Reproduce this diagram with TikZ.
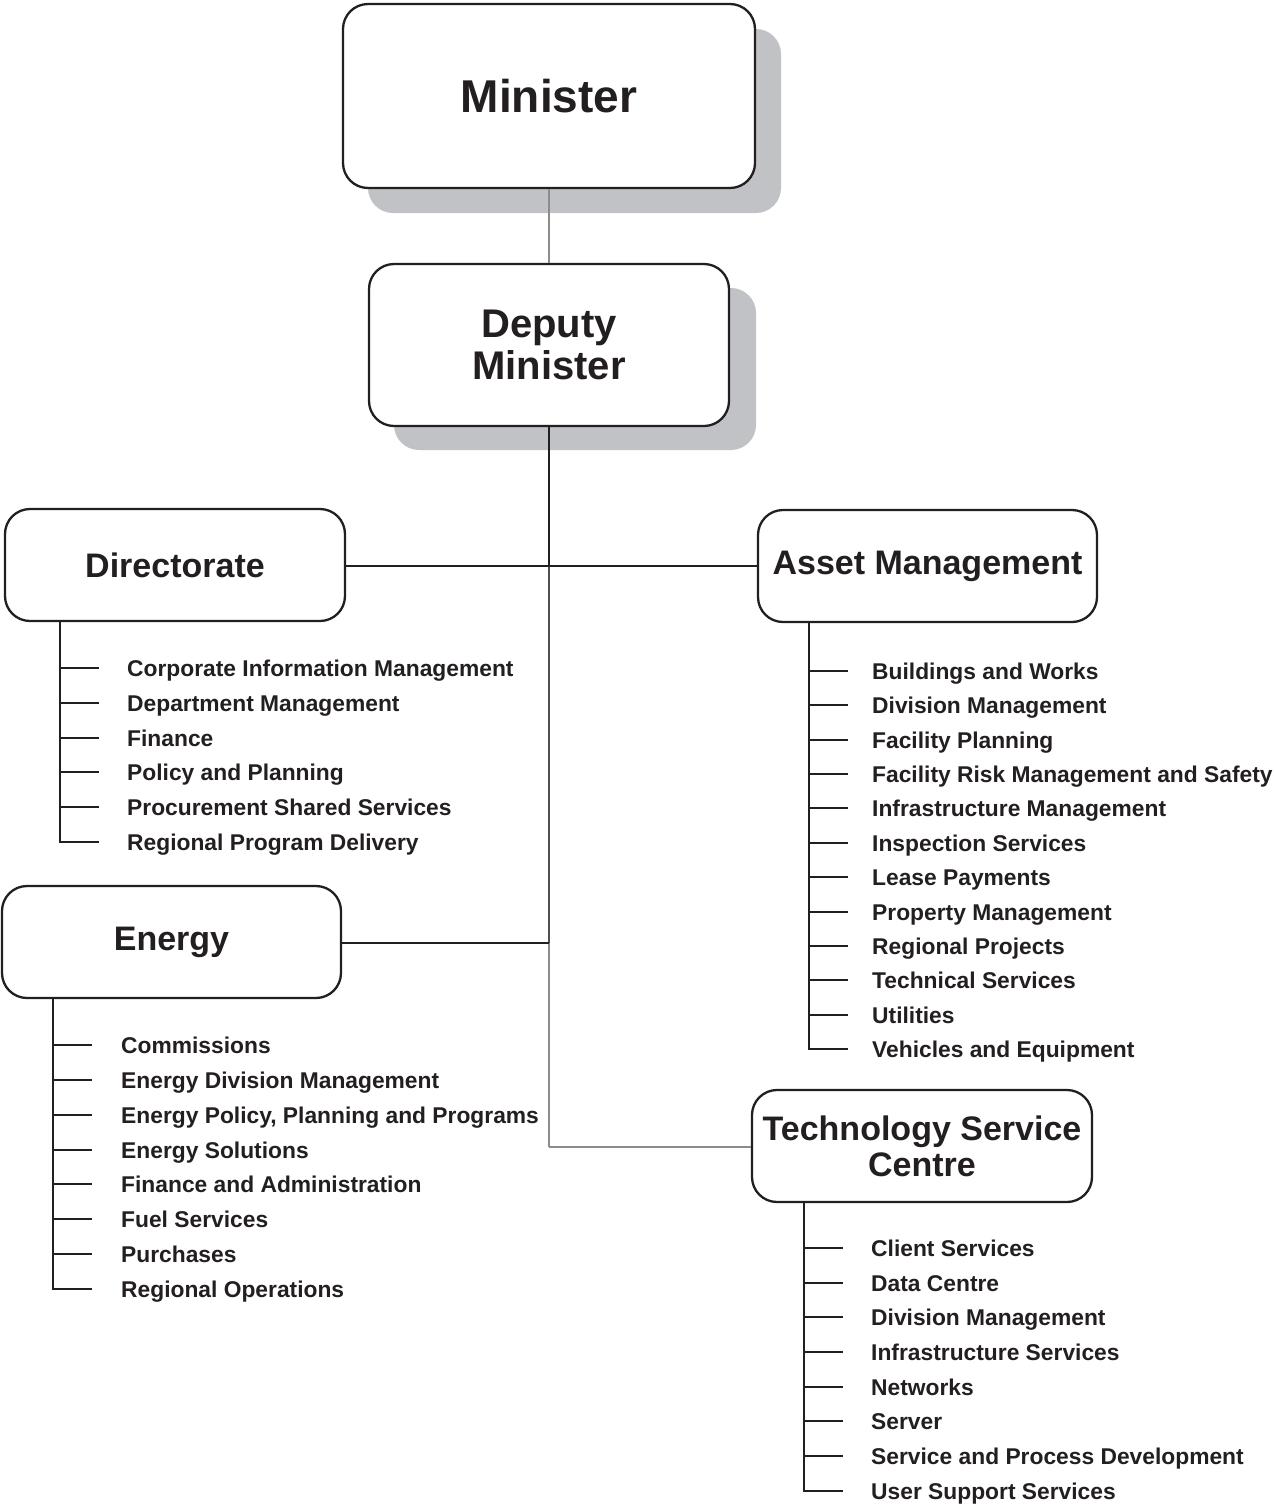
\documentclass[tikz,border=0pt]{standalone}
\usepackage{fontspec}
\setmainfont{Liberation Sans}
\definecolor{ink}{HTML}{231F20}
\definecolor{shade}{HTML}{C1C2C5}
\definecolor{lgrey}{HTML}{8C8C8C}
\definecolor{mgrey}{HTML}{505050}
\begin{document}
\begin{tikzpicture}[x=1pt,y=-1pt,
  box/.style={draw=ink, line width=2.3pt, rounded corners=25pt, fill=white, inner sep=0pt, text=ink, align=center, font=\bfseries\fontsize{34}{36}\selectfont},
  shadowbox/.style={fill=shade, rounded corners=25pt},
  item/.style={anchor=base west, inner sep=0pt, text=ink, font=\bfseries\fontsize{22.8}{24}\selectfont},
  bracket/.style={draw=ink, line width=2pt},
  conn/.style={line width=1.4pt}]
\useasboundingbox (0,0) rectangle (1274,1505);

% shadows
\fill[shadowbox] (368,29) rectangle (781,213);
\fill[shadowbox] (394,288) rectangle (756,450);

% coordinates for trunk junctions
\coordinate (jd) at (549,566);
\coordinate (je) at (549,943);
\coordinate (jt) at (549,1147);

% connectors (drawn before boxes)
\draw[conn, draw=ink, line width=2.4pt] (549,426) -- (jd);
\draw[conn, draw=mgrey, line width=2.2pt] (jd) -- (je);
\draw[conn, draw=lgrey, line width=2pt] (je) -- (jt);

% boxes
\node[box, minimum width=412pt, minimum height=184pt, font=\bfseries\fontsize{46}{48}\selectfont] (min) at (549,96) {Minister};
\node[box, minimum width=360pt, minimum height=162pt, font=\bfseries\fontsize{40}{42}\selectfont] (dep) at (549,345) {Deputy\\Minister};
\node[box, minimum width=340pt, minimum height=112pt] (dir) at (175,565) {Directorate};
\node[box, minimum width=339pt, minimum height=112pt] (ast) at (927.5,566) {Asset Management};
\node[box, minimum width=339pt, minimum height=112pt] (ene) at (171.5,942) {Energy};
\node[box, minimum width=340pt, minimum height=112pt] (tsc) at (922,1146) {Technology Service\\Centre};

\draw[conn, draw=ink, line width=1.3pt] (dir.east |- jd) -- (ast.west |- jd);
\draw[conn, draw=ink, line width=1.3pt] (ene.east |- je) -- (je);
\draw[conn, draw=lgrey, line width=1.6pt] (jt) -- (tsc.west |- jt);
\draw[conn, draw=lgrey, line width=1.8pt] (min.south) -- (dep.north);

% Directorate list
\foreach \t [count=\i] in {Corporate Information Management, Department Management, Finance, Policy and Planning, Procurement Shared Services, Regional Program Delivery}{
  \pgfmathsetmacro{\yy}{round(668+34.8*(\i-1))}
  \coordinate (dv\i) at (60,\yy);
  \coordinate (dt\i) at (99,\yy);
  \node[item] (d\i) at (127,{\yy+8.2}) {\t};
  \draw[bracket] (dv\i) -- (dt\i);
}
\draw[bracket] (dir.south -| dv1) -- (dv6) -- (dt6);

% Asset Management list
\foreach \t [count=\i] in {Buildings and Works, Division Management, Facility Planning, Facility Risk Management and Safety, Infrastructure Management, Inspection Services, Lease Payments, Property Management, Regional Projects, Technical Services, Utilities, Vehicles and Equipment}{
  \pgfmathsetmacro{\yy}{round(671+34.36*(\i-1))}
  \coordinate (av\i) at (809,\yy);
  \coordinate (at\i) at (848,\yy);
  \node[item] (a\i) at (872,{\yy+8.2}) {\t};
  \draw[bracket] (av\i) -- (at\i);
}
\draw[bracket] (ast.south -| av1) -- (av12) -- (at12);

% Energy list
\foreach \t [count=\i] in {Commissions, Energy Division Management, {Energy Policy, Planning and Programs}, Energy Solutions, Finance and Administration, Fuel Services, Purchases, Regional Operations}{
  \pgfmathsetmacro{\yy}{round(1045+34.86*(\i-1))}
  \coordinate (ev\i) at (53,\yy);
  \coordinate (et\i) at (92,\yy);
  \node[item] (e\i) at (121,{\yy+8.2}) {\t};
  \draw[bracket] (ev\i) -- (et\i);
}
\draw[bracket] (ene.south -| ev1) -- (ev8) -- (et8);

% TSC list
\foreach \t [count=\i] in {Client Services, Data Centre, Division Management, Infrastructure Services, Networks, Server, Service and Process Development, User Support Services}{
  \pgfmathsetmacro{\yy}{round(1248+34.7*(\i-1))}
  \coordinate (tv\i) at (804,\yy);
  \coordinate (tt\i) at (843,\yy);
  \node[item] (t\i) at (871,{\yy+8.2}) {\t};
  \draw[bracket] (tv\i) -- (tt\i);
}
\draw[bracket] (tsc.south -| tv1) -- (tv8) -- (tt8);
\end{tikzpicture}
\end{document}
